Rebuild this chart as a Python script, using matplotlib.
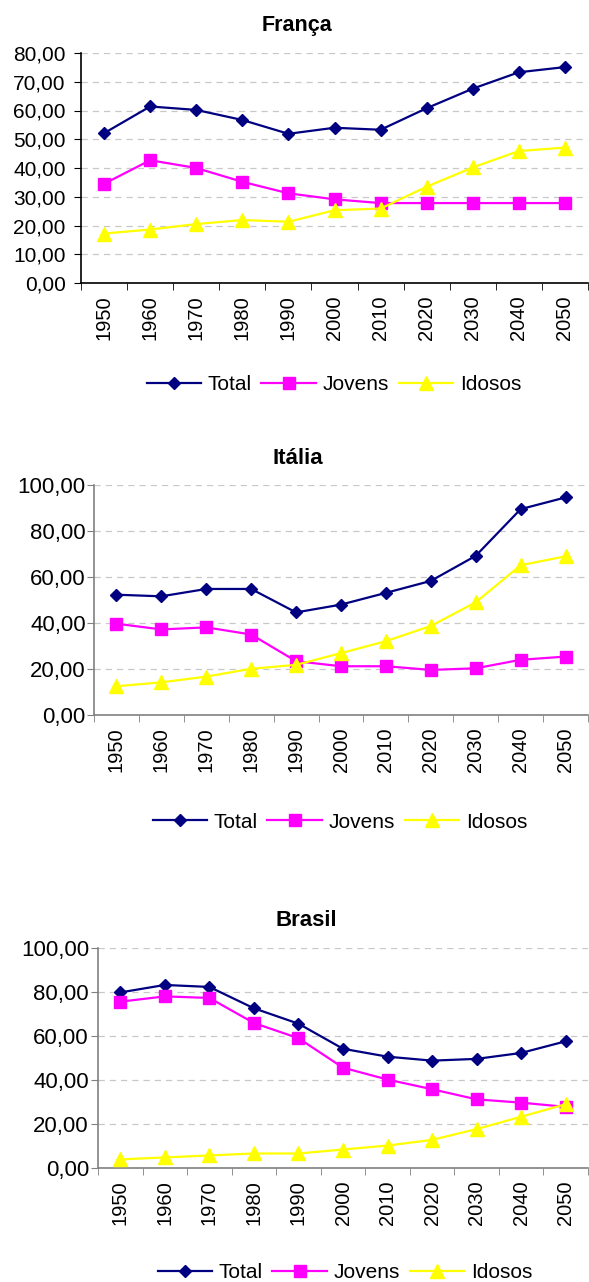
import matplotlib
matplotlib.use("Agg")
import matplotlib.pyplot as plt
from matplotlib.ticker import FuncFormatter, FixedLocator

plt.rcParams['font.family'] = ['Liberation Sans', 'DejaVu Sans']

anos = ['1950', '1960', '1970', '1980', '1990', '2000', '2010', '2020', '2030', '2040', '2050']

franca_total = [52.1, 61.4, 60.2, 56.7, 51.9, 54.0, 53.3, 60.8, 67.6, 73.3, 75.1]
franca_jovens = [34.5, 42.7, 40.0, 35.2, 31.2, 29.1, 27.8, 27.8, 27.8, 27.8, 27.8]
franca_idosos = [17.2, 18.6, 20.5, 21.9, 21.3, 25.3, 25.9, 33.5, 40.2, 45.9, 47.1]

italia_total = [52.3, 51.6, 54.8, 54.8, 44.6, 48.0, 53.1, 58.3, 69.2, 89.5, 94.6]
italia_jovens = [39.7, 37.2, 38.1, 35.0, 23.4, 21.2, 21.2, 19.6, 20.3, 24.0, 25.4]
italia_idosos = [12.5, 14.2, 16.7, 20.1, 21.8, 26.9, 32.1, 38.7, 49.0, 65.1, 69.0]

brasil_total = [79.8, 83.2, 82.3, 72.6, 65.6, 54.2, 50.6, 48.8, 49.6, 52.3, 57.6]
brasil_jovens = [75.6, 78.0, 77.3, 65.9, 59.0, 45.6, 40.2, 35.8, 31.2, 29.7, 27.8]
brasil_idosos = [3.9, 4.8, 5.7, 6.6, 6.6, 8.4, 10.2, 12.8, 17.7, 23.3, 29.0]

W, H = 589, 1282
fig = plt.figure(figsize=(W / 100, H / 100), dpi=100)


def painel(titulo, total, jovens, idosos, x0, y_top, y_bot, ymax, ystep,
           title_x, title_y, leg_x, leg_y, eixo_cor, ytick_fs, ypad, title_fs):
    ax = fig.add_axes([x0 / W, 1 - y_bot / H, (588 - x0) / W, (y_bot - y_top) / H])
    x = range(len(anos))
    ax.plot(x, total, color='#000080', lw=1.6, marker='D', ms=6.4,
            mfc='#000080', mec='#000080', label='Total', zorder=3)
    ax.plot(x, jovens, color='#FF00FF', lw=1.6, marker='s', ms=8.2,
            mfc='#FF00FF', mec='#FF00FF', label='Jovens', zorder=3)
    ax.plot(x, idosos, color='#FFFF00', lw=1.6, marker='^', ms=9.8,
            mfc='#FFFF00', mec='#FFFF00', label='Idosos', zorder=3)

    ax.set_xlim(-0.5, len(anos) - 0.5)
    ax.set_ylim(0, ymax)
    ax.set_yticks([v for v in range(0, ymax + 1, ystep)])
    ax.yaxis.set_major_formatter(FuncFormatter(lambda v, p: f'{v:.2f}'.replace('.', ',')))
    ax.set_xticks(list(x))
    ax.set_xticklabels(anos, rotation=90, fontsize=14.5)
    ax.xaxis.set_minor_locator(FixedLocator([i - 0.5 for i in range(len(anos) + 1)]))
    ax.tick_params(axis='x', which='major', length=0, pad=9)
    ax.tick_params(axis='x', which='minor', length=5, color=eixo_cor, direction='out')
    ax.tick_params(axis='y', length=5, color=eixo_cor, labelsize=ytick_fs, pad=ypad)
    ax.grid(axis='y', color='#c8c8c8', ls=(0, (5, 4)), lw=0.9)
    ax.set_axisbelow(True)
    for s in ['top', 'right']:
        ax.spines[s].set_visible(False)
    ax.spines['left'].set_color(eixo_cor)
    ax.spines['bottom'].set_color(eixo_cor)
    ax.spines['left'].set_linewidth(1.2)
    ax.spines['bottom'].set_linewidth(1.2)

    fig.text(title_x / W, 1 - title_y / H, titulo, ha='center', va='center',
             fontsize=title_fs, fontweight='bold')
    h, l = ax.get_legend_handles_labels()
    fig.legend(h, l, loc='center', bbox_to_anchor=(leg_x / W, 1 - leg_y / H),
               ncol=3, frameon=False, fontsize=15, handlelength=2.6,
               handletextpad=0.35, columnspacing=0.45, numpoints=1)
    return ax


painel('França', franca_total, franca_jovens, franca_idosos,
       81, 53, 283, 80, 10, 297, 26, 334, 385, 'black', 15, 6, 15.5)
painel('Itália', italia_total, italia_jovens, italia_idosos,
       94, 485, 715, 100, 20, 298, 458, 340, 822, '#808080', 16, 1, 16)
painel('Brasil', brasil_total, brasil_jovens, brasil_idosos,
       98, 948, 1168, 100, 20, 306, 921, 345, 1273, '#808080', 16, 1.5, 16)

fig.savefig('out.png', dpi=100)
